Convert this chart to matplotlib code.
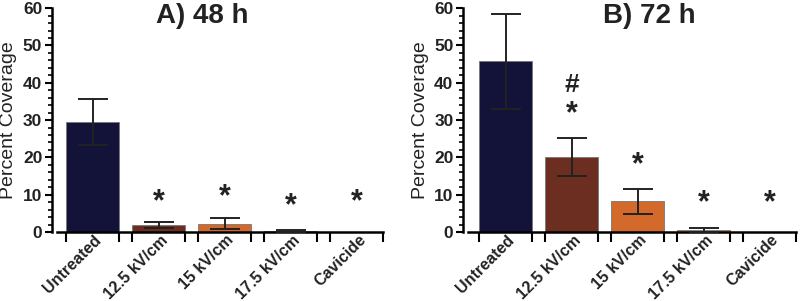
import matplotlib.pyplot as plt
import numpy as np
from matplotlib.ticker import MultipleLocator

plt.rcParams['font.family'] = ['Liberation Sans', 'DejaVu Sans']

categories = ['Untreated', '12.5 kV/cm', '15 kV/cm', '17.5 kV/cm', 'Cavicide']
colors = ['#13133a', '#6b2e20', '#d3692a', '#dc7a38', '#ffffff']

mean_48 = [29.5, 1.8, 2.2, 0.2, 0.0]
err_48 = [6.2, 0.8, 1.5, 0.4, 0.0]
mean_72 = [45.8, 20.0, 8.2, 0.6, 0.0]
err_72 = [12.7, 5.1, 3.4, 0.6, 0.0]

# significance marks (text, height)
marks_48 = [[], [('*', 8.0)], [('*', 9.2)], [('*', 7.0)], [('*', 7.9)]]
marks_72 = [[], [('#', 39.5), ('*', 31.5)], [('*', 17.8)], [('*', 7.8)], [('*', 7.8)]]

fig = plt.figure(figsize=(8, 3.01), dpi=100)
axA = fig.add_axes([0.065, 0.229, 0.414, 0.744])
axB = fig.add_axes([0.579, 0.229, 0.416, 0.744])


def draw_panel(ax, means, errs, marks, title, title_x, xleft):
    x = np.arange(len(categories))
    for i in x:
        if means[i] > 0:
            ax.bar(i, means[i], width=0.8, color=colors[i],
                   edgecolor='#777777', linewidth=0.6, zorder=2)
        if errs[i] > 0:
            ax.errorbar(i, means[i], yerr=errs[i], fmt='none',
                        ecolor='#222222', elinewidth=1.4, capsize=11,
                        capthick=1.4, zorder=3)
        for txt, h in marks[i]:
            ax.text(i, h, txt, ha='center', va='center',
                    fontsize=22 if txt == '*' else 19,
                    fontweight='bold', color='#222222')

    ax.set_xlim(xleft, 4.4)
    ax.set_ylim(0, 60)
    ax.spines['top'].set_visible(False)
    ax.spines['right'].set_visible(False)
    ax.spines['left'].set_linewidth(1.8)
    ax.spines['bottom'].set_linewidth(1.8)
    ax.spines['bottom'].set_bounds(xleft + 0.08, 4.4)

    edges = []
    for i in x:
        edges += [i - 0.4, i + 0.4]
    ax.set_xticks(edges)
    ax.set_xticklabels([])
    ax.set_xticks(x + 0.1, minor=True)
    ax.set_xticklabels(categories, minor=True, rotation=45, ha='right',
                       va='center', rotation_mode='anchor', fontsize=11.5,
                       fontweight='bold', color='#222222')
    ax.tick_params(axis='x', which='major', length=7, width=1.5, direction='out')
    ax.tick_params(axis='x', which='minor', length=0, pad=4)

    ax.yaxis.set_major_locator(MultipleLocator(10))
    ax.yaxis.set_minor_locator(MultipleLocator(2))
    ax.tick_params(axis='y', which='major', length=5, width=1.5, labelsize=12.5,
                   pad=2)
    ax.tick_params(axis='y', which='minor', length=3, width=1.2)
    for lab in ax.get_yticklabels():
        lab.set_fontweight('bold')
        lab.set_color('#222222')
    ax.set_ylabel('Percent Coverage', fontsize=14, color='#222222', labelpad=4)

    ax.text(title_x, 0.965, title, transform=ax.transAxes, ha='center',
            va='center', fontsize=20, fontweight='bold', color='#222222')


draw_panel(axA, mean_48, err_48, marks_48, 'A) 48 h', 0.453, -0.614)
draw_panel(axB, mean_72, err_72, marks_72, 'B) 72 h', 0.56, -0.645)

fig.savefig('out.png', dpi=100)
